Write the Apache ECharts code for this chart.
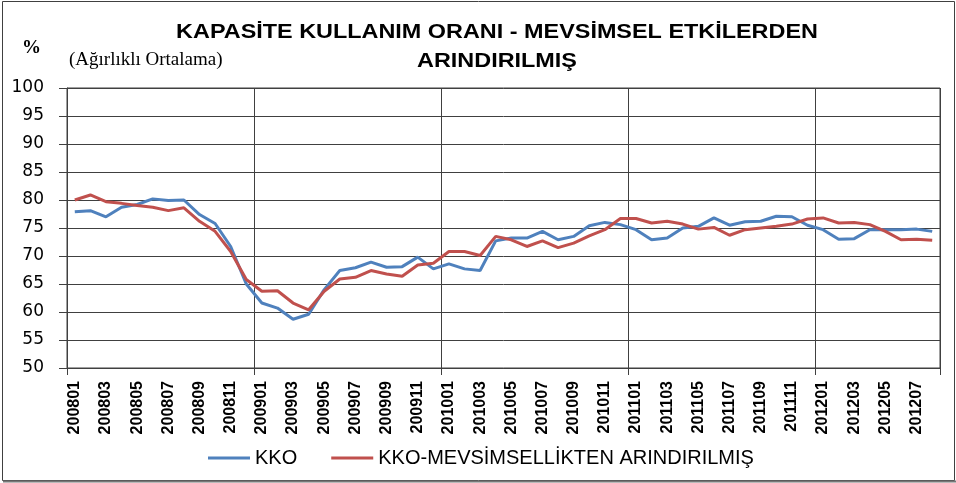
<!DOCTYPE html>
<html>
<head>
<meta charset="utf-8">
<script src="https://cdn.jsdelivr.net/npm/echarts@6/dist/echarts.min.js"></script>
<style>
html,body{margin:0;padding:0;background:#fff;}
#chart{width:956px;height:483px;}
</style>
</head>
<body>
<div id="chart"></div>
<script>
var months = [
 '200801','200802','200803','200804','200805','200806','200807','200808','200809','200810','200811','200812',
 '200901','200902','200903','200904','200905','200906','200907','200908','200909','200910','200911','200912',
 '201001','201002','201003','201004','201005','201006','201007','201008','201009','201010','201011','201012',
 '201101','201102','201103','201104','201105','201106','201107','201108','201109','201110','201111','201112',
 '201201','201202','201203','201204','201205','201206','201207','201208'
];
var kko = [
 77.9,78.1,77.0,78.7,79.2,80.2,79.9,80.0,77.4,75.8,71.7,65.0,
 61.6,60.7,58.7,59.6,64.0,67.4,67.9,68.9,68.0,68.1,69.8,67.7,
 68.6,67.7,67.4,72.7,73.2,73.2,74.4,72.9,73.5,75.4,76.0,75.6,
 74.7,72.9,73.2,75.0,75.3,76.8,75.5,76.1,76.2,77.1,77.0,75.5,
 74.7,73.0,73.1,74.7,74.7,74.7,74.8,74.4
];
var kkoSa = [
 80.0,80.9,79.7,79.4,79.0,78.7,78.1,78.6,76.2,74.4,70.8,65.8,
 63.7,63.8,61.6,60.4,63.7,65.9,66.2,67.4,66.8,66.4,68.4,68.7,
 70.8,70.8,70.1,73.5,72.9,71.7,72.7,71.5,72.3,73.6,74.7,76.7,
 76.7,75.9,76.2,75.7,74.8,75.1,73.7,74.7,75.0,75.3,75.7,76.6,
 76.8,75.9,76.0,75.6,74.4,72.9,73.0,72.8
];
var seriesNames = ['KKO', 'KKO-MEVSİMSELLİKTEN ARINDIRILMIŞ'];
var titleLines = ['KAPASİTE KULLANIM ORANI - MEVSİMSEL ETKİLERDEN', 'ARINDIRILMIŞ'];
var unitText = '%';
var subText = '(Ağırlıklı Ortalama)';

var chart = echarts.init(document.getElementById('chart'), null, {renderer:'canvas'});
var yearBoundary = function (idx) { return idx % 12 === 0; };
var dark = '#404040';

chart.setOption({
  animation: false,
  backgroundColor: '#fff',
  graphic: [
    {type:'rect', shape:{x:2.5, y:1.5, width:952, height:479}, style:{fill:'none', stroke:dark, lineWidth:1}, silent:true},
    {type:'line', shape:{x1:3, y1:481.5, x2:956, y2:481.5}, style:{stroke:'#777', lineWidth:2}, silent:true},
    {type:'text', x:497, y:32, scaleX:1.17, style:{text:titleLines[0], font:'bold 20px "Liberation Sans"', fill:'#000', textAlign:'center', textVerticalAlign:'middle'}},
    {type:'text', x:497, y:61, scaleX:1.17, style:{text:titleLines[1], font:'bold 20px "Liberation Sans"', fill:'#000', textAlign:'center', textVerticalAlign:'middle'}},
    {type:'text', x:22, y:48, style:{text:unitText, font:'bold 19px "Liberation Serif"', fill:'#000', textAlign:'left', textVerticalAlign:'middle'}},
    {type:'text', x:69, y:60, style:{text:subText, font:'19px "Liberation Serif"', fill:'#000', textAlign:'left', textVerticalAlign:'middle'}}
  ],
  legend: {
    data: seriesNames,
    left: 203,
    top: 443,
    icon: 'rect',
    itemWidth: 42,
    itemHeight: 3,
    itemGap: 34,
    textStyle: {fontFamily:'Liberation Sans', fontSize:20, color:'#000'}
  },
  grid: {
    left: 67, right: 16, top: 88, bottom: 115,
    show: true, borderColor: dark, borderWidth: 1, containLabel: false
  },
  xAxis: {
    type: 'category',
    data: months,
    boundaryGap: true,
    axisLine: {show:true, lineStyle:{color:dark, width:1}},
    axisTick: {show:true, interval: yearBoundary, length:7, lineStyle:{color:dark}},
    splitLine: {show:true, interval: yearBoundary, lineStyle:{color:dark, width:1}},
    axisLabel: {
      interval: 1, rotate: 90, margin: 13,
      fontFamily: 'Liberation Sans', fontWeight: 'bold', fontSize: 16, color: '#000'
    }
  },
  yAxis: {
    type: 'value',
    min: 50, max: 100, interval: 5,
    axisLine: {show:true, lineStyle:{color:dark, width:1}},
    axisTick: {show:true, length:8, lineStyle:{color:dark}},
    splitLine: {show:true, lineStyle:{color:dark, width:1}},
    axisLabel: {margin: 23, fontFamily:'DejaVu Sans', fontSize:17, color:'#000'}
  },
  series: [
    {name: seriesNames[0], type:'line', data:kko, symbol:'none', smooth:false,
     itemStyle:{color:'#4F81BD'}, lineStyle:{color:'#4F81BD', width:3}, z:2},
    {name: seriesNames[1], type:'line', data:kkoSa, symbol:'none', smooth:false,
     itemStyle:{color:'#C0504D'}, lineStyle:{color:'#C0504D', width:3}, z:3}
  ]
});
</script>
</body>
</html>
